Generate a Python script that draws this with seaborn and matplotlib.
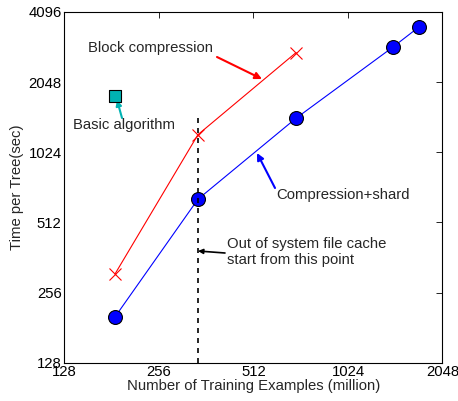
import matplotlib
matplotlib.use("Agg")
import matplotlib.pyplot as plt
import seaborn as sns
import pandas as pd

# Data
shard_x = [186, 341, 700, 1423, 1722]
shard_y = [202, 644, 1434, 2894, 3530]
block_x = [186, 341, 700]
block_y = [309, 1219, 2743]
basic_x = [186]
basic_y = [1783]
cache_x = 341
cache_top = 1456
x_ticks = [128, 256, 512, 1024, 2048]
y_ticks = [128, 256, 512, 1024, 2048, 4096]

sns.set_style("white")
plt.rcParams['font.family'] = ['Liberation Sans', 'DejaVu Sans']
FS = 10.7

fig = plt.figure(figsize=(4.58, 4.01), dpi=100)
ax = fig.add_axes([64.3/458, 1 - 362.7/401, (442.5-64.3)/458, (362.7-12)/401])

ax.set_xscale('log', base=2)
ax.set_yscale('log', base=2)

df_shard = pd.DataFrame({'x': shard_x, 'y': shard_y})
df_block = pd.DataFrame({'x': block_x, 'y': block_y})
df_basic = pd.DataFrame({'x': basic_x, 'y': basic_y})

sns.lineplot(data=df_shard, x='x', y='y', ax=ax, color='blue', lw=0.8,
             marker='o', markersize=10, markerfacecolor='blue',
             markeredgecolor='black', markeredgewidth=0.8)
sns.lineplot(data=df_block, x='x', y='y', ax=ax, color='red', lw=0.8,
             marker='x', markersize=9, markeredgecolor='red', markeredgewidth=0.8)
sns.scatterplot(data=df_basic, x='x', y='y', ax=ax, marker='s', s=70,
                color='#00b3b3', edgecolor='black', linewidth=0.8, zorder=5)

ax.plot([cache_x, cache_x], [128, cache_top], ls='--', color='black', lw=1.2,
        dashes=(3, 3))

ax.set_xlim(128, 2048)
ax.set_ylim(128, 4096)
ax.set_xticks(x_ticks)
ax.set_xticklabels([str(v) for v in x_ticks])
ax.set_yticks(y_ticks)
ax.set_yticklabels([str(v) for v in y_ticks])
ax.minorticks_off()
ax.tick_params(direction='in', length=4, width=0.6, top=True, right=True,
               labelsize=FS, pad=2, colors='black')
for s in ax.spines.values():
    s.set_color('black')
    s.set_linewidth(0.8)

ax.set_xlabel('Number of Training Examples (million)', fontsize=FS, labelpad=0)
ax.set_ylabel('Time per Tree(sec)', fontsize=FS, labelpad=3)

def ff(x, y):
    return (x/458, 1 - y/401)

def arrow(tail, head, color, lw, ms):
    ax.annotate('', xy=ff(*head), xytext=ff(*tail),
                xycoords='figure fraction', textcoords='figure fraction',
                arrowprops=dict(arrowstyle='-|>', color=color, lw=lw,
                                mutation_scale=ms, shrinkA=0, shrinkB=0))

fig.text(*ff(88, 48), 'Block compression', fontsize=FS, va='center', ha='left')
arrow((217, 57), (262, 79), 'red', 1.5, 10)
fig.text(*ff(73, 125), 'Basic algorithm', fontsize=FS, va='center', ha='left')
arrow((122, 118), (117, 100), '#00b3b3', 1.5, 8)
fig.text(*ff(276, 195), 'Compression+shard', fontsize=FS, va='center', ha='left')
arrow((275, 188), (257, 153), 'blue', 1.5, 10)
fig.text(*ff(227, 252), 'Out of system file cache\nstart from this point',
         fontsize=FS, va='center', ha='left', linespacing=1.15)
arrow((225, 253), (198, 251), 'black', 1.2, 7)

fig.savefig('out.png', dpi=100)
